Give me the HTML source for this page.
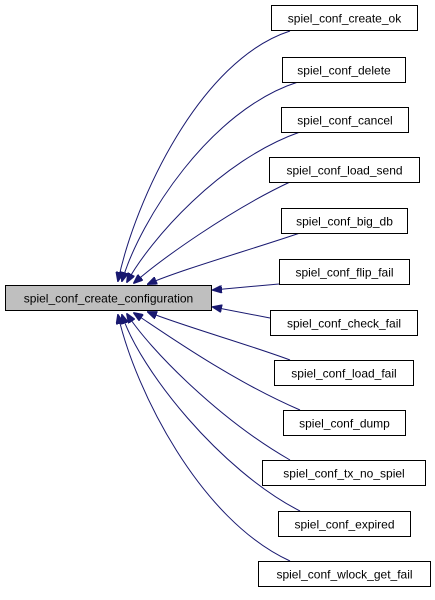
<!DOCTYPE html><html><head><style>body{margin:0;background:#fff}</style></head><body>
<svg width="435" height="595" xmlns="http://www.w3.org/2000/svg" font-family="Liberation Sans, sans-serif" font-size="12">
<defs><marker id="a" markerWidth="10" markerHeight="8" refX="9" refY="4" orient="auto" markerUnits="userSpaceOnUse"><path d="M0,0L10,4L0,8z" fill="#191970" stroke="#191970"/></marker></defs>
<g fill="none" stroke="#191970" stroke-width="1" marker-end="url(#a)">
<path d="M290,31 C200,60 135,200 118,281"/>
<path d="M298,82 C210,110 140,220 122,281"/>
<path d="M300,132 C220,160 150,240 127,282"/>
<path d="M290,182 C230,210 160,260 134,283"/>
<path d="M300,233 C250,250 180,270 148,284"/>
<path d="M279,284 L213,290"/>
<path d="M270,318 L213,307"/>
<path d="M290,360 C250,345 180,325 148,312"/>
<path d="M300,410 C230,380 160,330 134,313"/>
<path d="M290,460 C220,420 150,350 127,314"/>
<path d="M300,511 C220,470 140,370 122,315"/>
<path d="M290,561 C200,520 135,390 118,315"/>
</g>
<g stroke="#000" fill="#fff">
<rect x="5.5" y="285.5" width="206" height="25" fill="#bfbfbf"/>
<rect x="271.5" y="5.5" width="146" height="25"/>
<rect x="282.5" y="57.5" width="123" height="25"/>
<rect x="281.5" y="107.5" width="127" height="25"/>
<rect x="269.5" y="157.5" width="150" height="25"/>
<rect x="281.5" y="208.5" width="126" height="25"/>
<rect x="279.5" y="259.5" width="130" height="25"/>
<rect x="270.5" y="310.5" width="147" height="25"/>
<rect x="274.5" y="360.5" width="139" height="25"/>
<rect x="283.5" y="410.5" width="122" height="25"/>
<rect x="262.5" y="460.5" width="163" height="25"/>
<rect x="278.5" y="511.5" width="132" height="25"/>
<rect x="258.5" y="561.5" width="172" height="25"/>
</g>
<g text-anchor="middle" fill="#000">
<text x="108.5" y="302.5">spiel_conf_create_configuration</text>
<text x="344.5" y="22.5">spiel_conf_create_ok</text>
<text x="344" y="74.5">spiel_conf_delete</text>
<text x="345" y="124.5">spiel_conf_cancel</text>
<text x="344.5" y="174.5">spiel_conf_load_send</text>
<text x="344.5" y="225.5">spiel_conf_big_db</text>
<text x="344.5" y="276.5">spiel_conf_flip_fail</text>
<text x="344" y="327.5">spiel_conf_check_fail</text>
<text x="344" y="377.5">spiel_conf_load_fail</text>
<text x="344.5" y="427.5">spiel_conf_dump</text>
<text x="344" y="477.5">spiel_conf_tx_no_spiel</text>
<text x="344.5" y="528.5">spiel_conf_expired</text>
<text x="344.5" y="578.5">spiel_conf_wlock_get_fail</text>
</g>
</svg></body></html>
